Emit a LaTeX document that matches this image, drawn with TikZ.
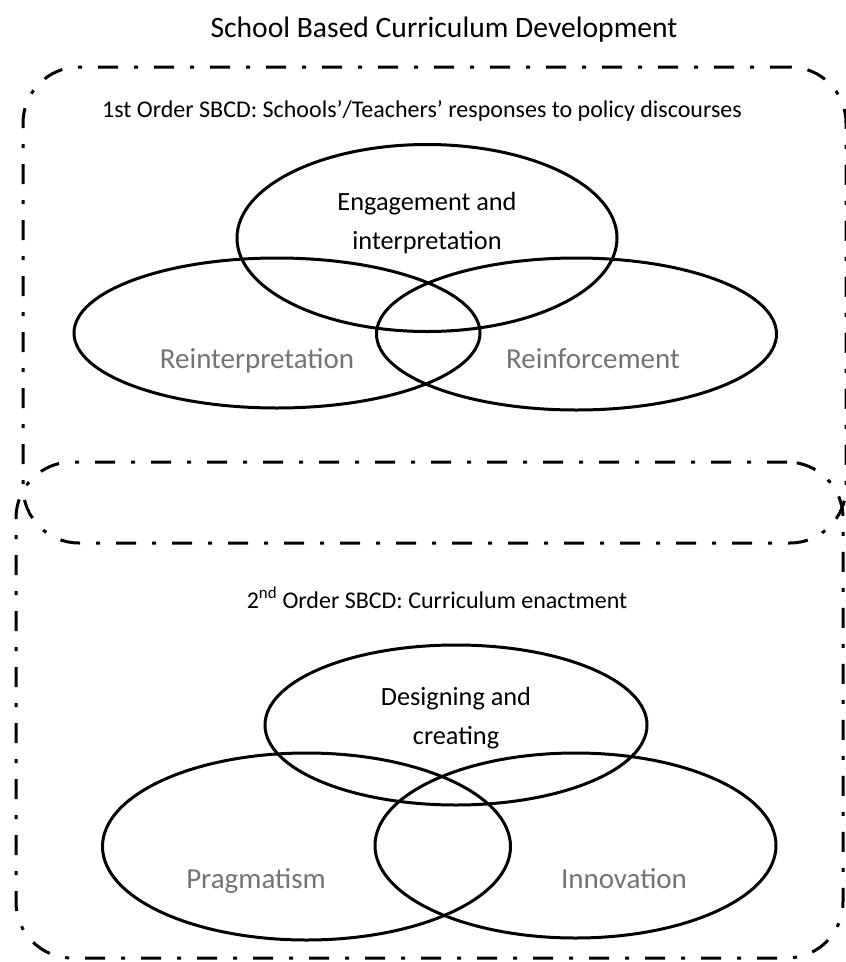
\documentclass[tikz,border=0pt]{standalone}
\usepackage{fontspec}
\setmainfont{Carlito}
\usetikzlibrary{shapes.geometric}
\tikzset{
    sbcdbox/.style={draw, rounded corners=56pt, line width=3pt,
        dash pattern=on 20pt off 16pt on 4pt off 16pt, inner sep=0pt},
    vennellipse/.style={draw, ellipse, line width=3pt, inner sep=0pt},
    venntext/.style={align=center, font=\fontsize{26.3}{38.5}\selectfont},
    venngrey/.style={anchor=base, text=black!55, font=\fontsize{29}{35}\selectfont},
    ordertext/.style={anchor=base, font=\fontsize{24}{29}\selectfont}
}

\begin{document}
\begin{tikzpicture}[x=1pt, y=-1pt]
\useasboundingbox (0,0) rectangle (846,962);
\node[anchor=base, font=\fontsize{29.6}{36}\selectfont] (title) at (444,37) {School Based Curriculum Development};

% 1st order
\node[sbcdbox, minimum width=823pt, minimum height=476pt] (first) at (434.5,305) {};
\node[ordertext] (firstlabel) at (422,117) {1st Order SBCD: Schools’/Teachers’ responses to policy discourses};
\node[vennellipse, minimum width=380pt, minimum height=187pt] (engage) at (427,238) {};
\node[vennellipse, minimum width=406pt, minimum height=150pt] (reinterp) at (277,333) {};
\node[vennellipse, minimum width=400pt, minimum height=152pt] (reinforce) at (576.5,334) {};
\node[venntext] (engagetext) at (427,223) {Engagement and\\interpretation};
\node[venngrey] (reinterptext) at (257,368) {Reinterpretation};
\node[venngrey] (reinforcetext) at (593,368) {Reinforcement};

% 2nd order
\node[sbcdbox, minimum width=827pt, minimum height=496pt] (second) at (429.5,710) {};
\node[ordertext] (secondlabel) at (437,608) {2\textsuperscript{nd} Order SBCD: Curriculum enactment};
\node[vennellipse, minimum width=382pt, minimum height=160pt] (design) at (456,725) {};
\node[vennellipse, minimum width=408pt, minimum height=187pt] (pragma) at (306.5,846.5) {};
\node[vennellipse, minimum width=401pt, minimum height=185pt] (innov) at (575.5,845.5) {};
\node[venntext] (designtext) at (456,718) {Designing and\\creating};
\node[venngrey] (pragmatext) at (256,888) {Pragmatism};
\node[venngrey] (innovtext) at (624,888) {Innovation};
\end{tikzpicture}
\end{document}
